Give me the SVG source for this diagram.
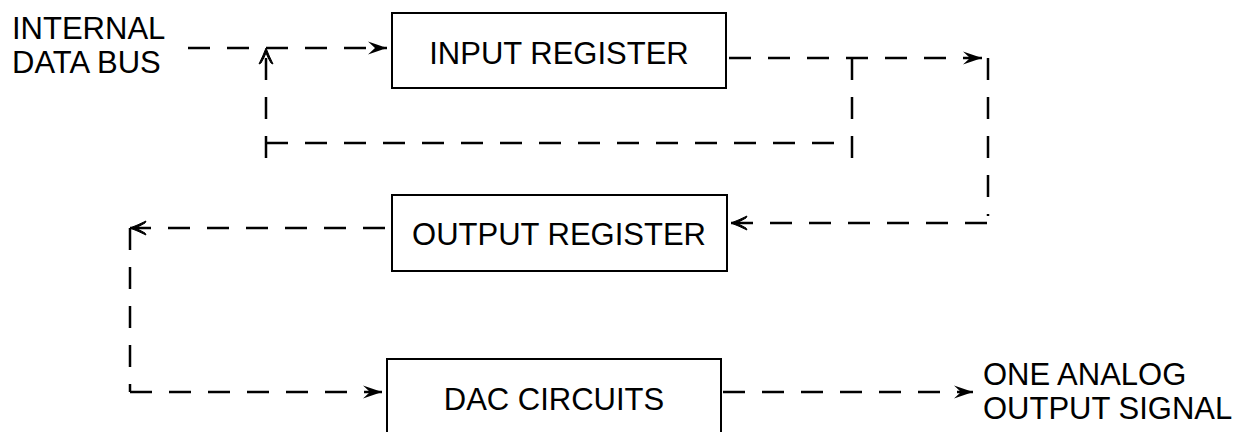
<svg xmlns="http://www.w3.org/2000/svg" width="1236" height="432" viewBox="0 0 1236 432">
  <style>
    .box { fill: #fff; stroke: #000; stroke-width: 2; }
    .lbl { font-family: "Liberation Sans", Arial, sans-serif; font-size: 31px; fill: #000; }
    .mid { text-anchor: middle; }
    .flow { fill: none; stroke: #000; stroke-width: 2.5; stroke-dasharray: 22 17; }
    .arr { marker-end: url(#head); }
    .arrThin { marker-end: url(#headThin); }
  </style>
  <defs>
    <marker id="head" markerUnits="userSpaceOnUse" markerWidth="24" markerHeight="16" viewBox="-20 -8 22 16" refX="0" refY="0" orient="auto">
      <path d="M0,0 L-19,-6.5 L-12,0 L-19,6.5 Z" fill="#000"/>
    </marker>
    <marker id="headThin" markerUnits="userSpaceOnUse" markerWidth="22" markerHeight="18" viewBox="-18 -9 20 18" refX="0" refY="0" orient="auto">
      <path d="M0,0 Q-8,-3 -16,-7 L-15,-5 Q-10,-2 -5,0 Q-10,2 -15,5 L-16,7 Q-8,3 0,0 Z" fill="#000" stroke="#000" stroke-width="1"/>
    </marker>
  </defs>

  <!-- free labels -->
  <g id="bus-label">
    <text class="lbl" x="12" y="39">INTERNAL</text>
    <text class="lbl" x="12" y="73">DATA BUS</text>
  </g>
  <g id="analog-label">
    <text class="lbl" x="983" y="385">ONE ANALOG</text>
    <text class="lbl" x="983" y="419">OUTPUT SIGNAL</text>
  </g>

  <!-- blocks -->
  <g id="input-register">
    <rect class="box" x="392" y="13" width="334" height="75"/>
    <text class="lbl mid" x="559" y="64">INPUT REGISTER</text>
  </g>
  <g id="output-register">
    <rect class="box" x="392" y="195" width="335" height="76"/>
    <text class="lbl mid" x="559" y="245">OUTPUT REGISTER</text>
  </g>
  <g id="dac-circuits">
    <rect class="box" x="387" y="359" width="334" height="100"/>
    <text class="lbl mid" x="554" y="410">DAC CIRCUITS</text>
  </g>

  <!-- dashed signal paths -->
  <g id="connectors">
    <!-- data bus into input register -->
    <path class="flow arr" d="M188,48 H387"/>
    <!-- feedback loop around the input register -->
    <path class="flow" d="M852,58 V158"/>
    <path class="flow" d="M266,143 H852"/>
    <path class="flow arrThin" d="M266,158 V48"/>
    <!-- input register to output register -->
    <path class="flow arr" d="M729,58 H982"/>
    <path class="flow" d="M988,58 V216"/>
    <path class="flow arrThin" d="M987,223 H731"/>
    <!-- output register to DAC -->
    <path class="flow arrThin" d="M385,228 H130"/>
    <path class="flow" d="M130,228 V392"/>
    <path class="flow arr" d="M130,392 H382"/>
    <!-- DAC to analog output -->
    <path class="flow arr" d="M723,392 H973"/>
  </g>
</svg>
